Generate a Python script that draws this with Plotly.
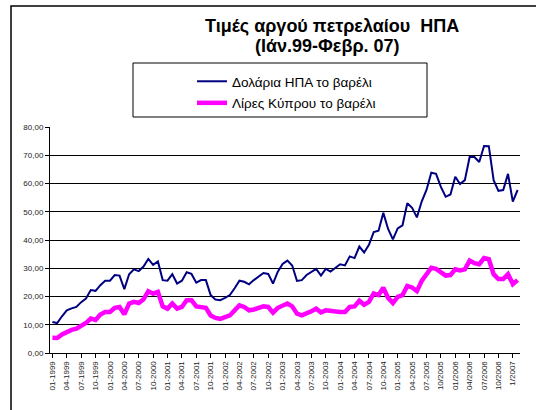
import plotly.graph_objects as go

tick_labels = ["01-1999", "04-1999", "07-1999", "10-1999", "01-2000", "04-2000", "07-2000", "10-2000",
               "01-2001", "04-2001", "07-2001", "10-2001", "01-2002", "04-2002", "07-2002", "10-2002",
               "01-2003", "04-2003", "07-2003", "10-2003", "01-2004", "04-2004", "07-2004", "10-2004",
               "01-2005", "04-2005", "07-2005", "10/2005", "01/2006", "04/2006", "07/2006", "10/2006",
               "1/2007"]

usd = [11.0, 10.6, 13.0, 15.1, 15.8, 16.3, 18.0, 19.3, 22.3, 22.0, 24.0, 25.6,
       25.6, 27.6, 27.4, 22.6, 27.9, 29.6, 29.0, 30.6, 33.3, 31.2, 32.4, 25.8,
       25.6, 27.9, 24.6, 25.6, 28.6, 28.0, 24.9, 25.8, 25.8, 20.5, 18.9, 18.7,
       19.5, 20.5, 22.9, 25.6, 25.2, 24.3, 25.8, 27.0, 28.3, 28.0, 24.6, 28.8,
       31.5, 32.7, 31.0, 25.5, 25.8, 27.6, 28.6, 29.8, 27.4, 29.8, 28.8, 30.0,
       31.4, 31.0, 34.2, 33.6, 37.7, 35.6, 38.3, 42.8, 43.3, 49.6, 43.9, 40.2,
       44.1, 45.2, 53.0, 51.4, 48.0, 53.6, 57.7, 63.8, 63.4, 58.8, 55.3, 56.1,
       62.4, 59.8, 61.2, 69.4, 69.4, 67.6, 73.3, 73.2, 61.2, 57.4, 57.7, 63.4,
       53.6, 57.7]

cyp = [5.4, 5.3, 6.6, 7.6, 8.2, 8.6, 9.6, 10.6, 12.2, 11.7, 13.6, 14.5,
       14.5, 16.0, 16.3, 13.7, 17.5, 18.1, 17.7, 19.0, 21.9, 21.0, 21.6, 16.5,
       15.7, 17.5, 15.7, 16.3, 18.7, 18.7, 16.5, 16.3, 16.0, 13.3, 12.4, 12.1,
       12.7, 13.3, 15.1, 16.9, 16.3, 15.1, 15.4, 16.0, 16.5, 16.3, 14.3, 16.0,
       16.9, 17.5, 16.5, 13.9, 13.3, 13.9, 14.8, 15.7, 14.4, 15.1, 14.8, 14.5,
       14.5, 14.5, 16.3, 16.5, 18.5, 17.1, 18.1, 21.1, 20.5, 23.1, 19.5, 17.7,
       19.9, 20.5, 23.7, 23.2, 21.9, 25.5, 27.9, 30.2, 29.8, 28.5, 27.4, 27.6,
       29.6, 29.2, 29.6, 32.7, 31.8, 31.4, 33.6, 33.2, 27.9, 26.2, 26.2, 27.9,
       24.4, 25.8]

series_names = ["Δολάρια ΗΠΑ το βαρέλι", "Λίρες Κύπρου το βαρέλι"]
title_lines = ["Τιμές αργού πετρελαίου  ΗΠΑ", "(Ιάν.99-Φεβρ. 07)"]

W, H = 536, 410
L, R, T, B = 50, 16, 127, 57
pw, ph = W - L - R, H - T - B


def px(x):
    return (x - L) / pw


def py(y):
    return (H - B - y) / ph


xs = list(range(len(usd)))
fig = go.Figure()
fig.add_trace(go.Scatter(x=xs, y=usd, mode="lines", name=series_names[0],
                         line=dict(color="#000080", width=2), legendgroup="a"))
fig.add_trace(go.Scatter(x=xs, y=cyp, mode="lines", name=series_names[1],
                         line=dict(color="#FF00FF", width=4.5), legendgroup="b"))

font = "Liberation Sans, Arial, sans-serif"
fig.update_layout(
    width=W, height=H,
    margin=dict(l=L, r=R, t=T, b=B),
    paper_bgcolor="white", plot_bgcolor="white",
    separators=",.",
    font=dict(family=font, color="black"),
    showlegend=True,
    legend=dict(x=px(192), y=py(66), xanchor="left", yanchor="top",
                font=dict(size=13.5, family=font), bgcolor="rgba(0,0,0,0)",
                tracegroupgap=1, itemwidth=30),
    xaxis=dict(range=[-0.5, len(usd) - 0.5], tickmode="array",
               tickvals=[3 * i for i in range(len(tick_labels))], ticktext=tick_labels,
               tickangle=-90, tickfont=dict(size=8, color="#222"), ticks="outside",
               ticklen=4, tickcolor="black", showline=True, linecolor="black",
               linewidth=1, showgrid=False, zeroline=False, fixedrange=True),
    yaxis=dict(range=[0, 80], dtick=10, tickformat=".2f", tickfont=dict(size=8, color="#222"),
               ticks="outside", ticklen=4, tickcolor="black", showline=True,
               linecolor="black", linewidth=1, showgrid=True, gridcolor="black",
               gridwidth=1, zeroline=False, fixedrange=True),
    shapes=[
        dict(type="rect", xref="paper", yref="paper", x0=px(133), x1=px(427),
             y0=py(63), y1=py(117), line=dict(color="black", width=1)),
        dict(type="rect", xref="paper", yref="paper", x0=px(11), x1=px(560),
             y0=py(6), y1=py(420), line=dict(color="black", width=1.5)),
    ],
    annotations=[
        dict(text="<b>%s</b>" % title_lines[0], xref="paper", yref="paper",
             x=px(332), y=py(26), showarrow=False, font=dict(size=18, family=font),
             xanchor="center", yanchor="middle"),
        dict(text="<b>%s</b>" % title_lines[1], xref="paper", yref="paper",
             x=px(327), y=py(46), showarrow=False, font=dict(size=18, family=font),
             xanchor="center", yanchor="middle"),
    ],
)

fig.write_html("out.html", config={"displayModeBar": False},
               post_script="document.body.style.margin='0';document.body.style.overflow='hidden';")
